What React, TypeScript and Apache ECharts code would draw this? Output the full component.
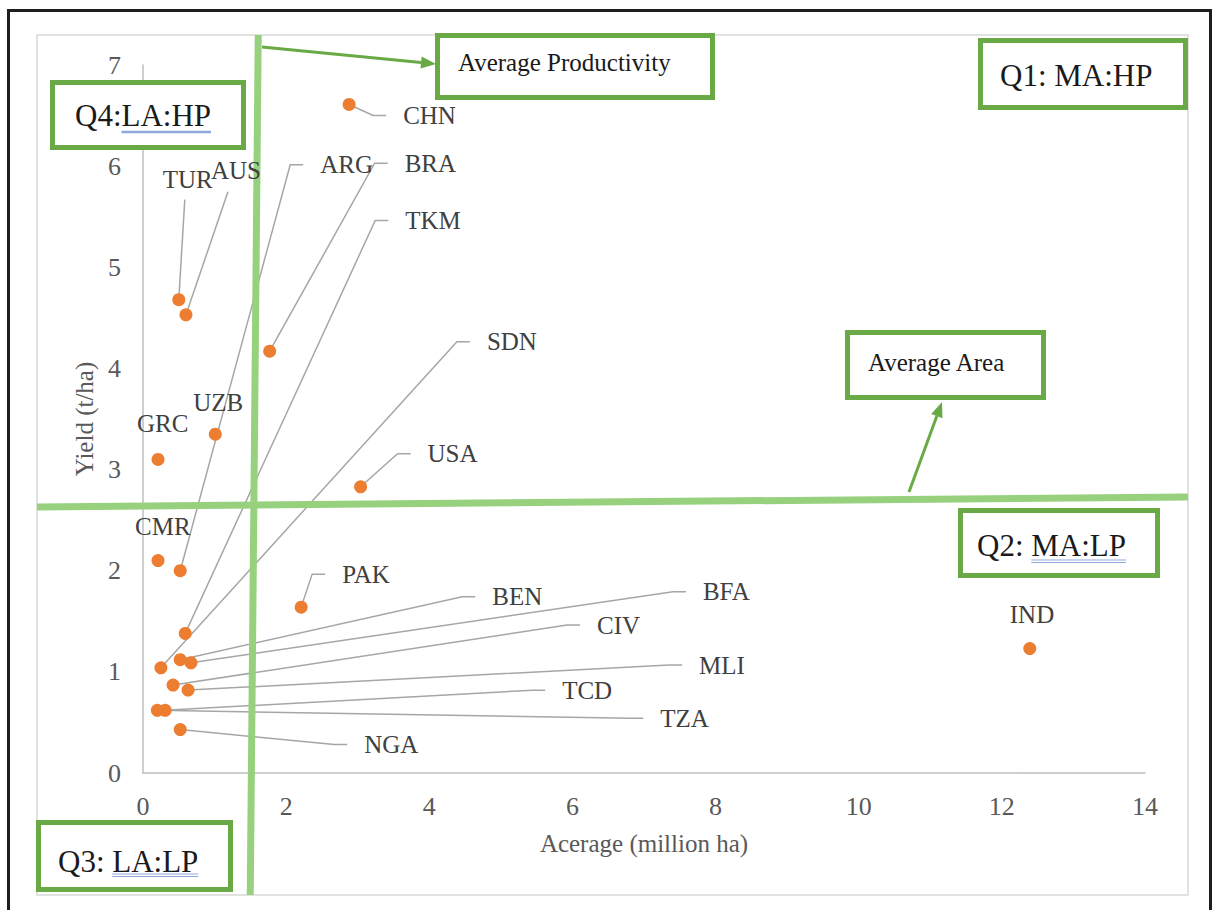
import React, { useEffect, useRef } from 'react';
import * as echarts from 'echarts';

// ---- data ----
const countries = ['CHN', 'TUR', 'AUS', 'ARG', 'BRA', 'TKM', 'SDN', 'USA', 'UZB', 'GRC', 'CMR', 'PAK', 'BEN', 'BFA', 'CIV', 'MLI', 'TCD', 'TZA', 'NGA', 'IND'];
const acreage = [2.88, 0.5, 0.6, 0.52, 1.77, 0.59, 0.25, 3.04, 1.01, 0.21, 0.21, 2.21, 0.52, 0.67, 0.42, 0.63, 0.31, 0.2, 0.52, 12.39];
const yieldTHa = [6.61, 4.68, 4.53, 2.0, 4.17, 1.38, 1.04, 2.83, 3.35, 3.1, 2.1, 1.64, 1.12, 1.09, 0.87, 0.82, 0.62, 0.62, 0.43, 1.23];
const avgArea = 1.55;
const avgYield = 2.68;
const xAxisRange = { min: 0, max: 14, interval: 2 };
const yAxisRange = { min: 0, max: 7, interval: 1 };

// ---- label layout (pixel offsets from each point to its label's left-middle) ----
type Lay = { dx: number; dy: number; leader: 'hook' | 'line' | 'none'; ax?: number; ay?: number };
const labelLayout: Record<string, Lay> = {
  CHN: { dx: 54, dy: 11, leader: 'hook' },
  TUR: { dx: -16, dy: -120, leader: 'line', ax: 6, ay: -100 },
  AUS: { dx: 25, dy: -144, leader: 'line', ax: 42, ay: -123 },
  ARG: { dx: 140, dy: -406, leader: 'hook' },
  BRA: { dx: 135, dy: -188, leader: 'hook' },
  TKM: { dx: 220, dy: -413, leader: 'hook' },
  SDN: { dx: 326, dy: -326, leader: 'hook' },
  USA: { dx: 67, dy: -33, leader: 'hook' },
  UZB: { dx: -22, dy: -32, leader: 'none' },
  GRC: { dx: -21, dy: -36, leader: 'none' },
  CMR: { dx: -23, dy: -34, leader: 'none' },
  PAK: { dx: 41, dy: -33, leader: 'hook' },
  BEN: { dx: 312, dy: -63, leader: 'hook' },
  BFA: { dx: 512, dy: -71, leader: 'hook' },
  CIV: { dx: 424, dy: -60, leader: 'hook' },
  MLI: { dx: 511, dy: -25, leader: 'hook' },
  TCD: { dx: 397, dy: -20, leader: 'hook' },
  TZA: { dx: 503, dy: 8, leader: 'hook' },
  NGA: { dx: 184, dy: 15, leader: 'hook' },
  IND: { dx: -20, dy: -34, leader: 'none' },
};

const FONT = '"Liberation Serif", "Times New Roman", serif';
const GREEN_LINE = '#97d17e';
const GREEN_BOX = '#6aaa46';
const UL_BLUE = '#8ea9db';

type Box = { x: number; y: number; w: number; h: number; left: number; cy: number; size: number; prefix: string; ul: string; ulType: 'none' | 'single' | 'double'; ulDy: number };
const boxes: Box[] = [
  { x: 435, y: 33, w: 280, h: 67, left: 458, cy: 62, size: 25, prefix: 'Average Productivity', ul: '', ulType: 'none', ulDy: 0 },
  { x: 978, y: 38, w: 210, h: 72, left: 1000, cy: 75, size: 31, prefix: 'Q1: MA:HP', ul: '', ulType: 'none', ulDy: 0 },
  { x: 50, y: 80, w: 196, h: 70, left: 75, cy: 115, size: 31, prefix: 'Q4:', ul: 'LA:HP', ulType: 'single', ulDy: 17 },
  { x: 958, y: 508, w: 202, h: 70, left: 977, cy: 545, size: 31, prefix: 'Q2: ', ul: 'MA:LP', ulType: 'double', ulDy: 15 },
  { x: 36, y: 820, w: 197, h: 72, left: 58, cy: 861, size: 31, prefix: 'Q3: ', ul: 'LA:LP', ulType: 'double', ulDy: 13 },
  { x: 845, y: 330, w: 201, h: 70, left: 868, cy: 362, size: 25, prefix: 'Average Area', ul: '', ulType: 'none', ulDy: 0 },
];

function arrow(x1: number, y1: number, x2: number, y2: number, z: number) {
  const dx = x2 - x1, dy = y2 - y1, L = Math.hypot(dx, dy);
  const ux = dx / L, uy = dy / L;
  const hl = 15, hw = 6;
  const bx = x2 - ux * hl, by = y2 - uy * hl;
  const nx = -uy, ny = ux;
  return [
    { type: 'line', z, shape: { x1, y1, x2: bx, y2: by }, style: { stroke: GREEN_BOX, lineWidth: 3 } },
    { type: 'polygon', z, shape: { points: [[x2, y2], [bx + nx * hw, by + ny * hw], [bx - nx * hw, by - ny * hw]] }, style: { fill: GREEN_BOX } },
  ];
}

export default function App() {
  const ref = useRef<HTMLDivElement>(null);
  useEffect(() => {
    const chart = echarts.init(ref.current!, null, { renderer: 'svg' });
    const axisLabel = { color: '#595959', fontSize: 26, fontFamily: FONT };
    chart.setOption({
      animation: false,
      backgroundColor: '#ffffff',
      grid: { left: 143, right: 68, top: 65, bottom: 137 },
      xAxis: {
        type: 'value', ...xAxisRange,
        name: 'Acerage (million ha)', nameLocation: 'middle', nameGap: 58,
        nameTextStyle: { color: '#595959', fontSize: 25, fontFamily: FONT },
        axisLine: { lineStyle: { color: '#bfbfbf', width: 1.5 } },
        axisTick: { show: false }, splitLine: { show: false },
        axisLabel: { ...axisLabel, margin: 20 },
      },
      yAxis: {
        type: 'value', ...yAxisRange,
        name: 'Yield (t/ha)', nameLocation: 'middle', nameGap: 46,
        nameTextStyle: { color: '#595959', fontSize: 25, fontFamily: FONT },
        axisLine: { show: true, lineStyle: { color: '#bfbfbf', width: 1.5 } },
        axisTick: { show: false }, splitLine: { show: false },
        axisLabel: { ...axisLabel, margin: 22 },
      },
      series: [{
        type: 'scatter',
        data: countries.map((c, i) => ({ name: c, value: [acreage[i], yieldTHa[i]] })),
        symbolSize: 13,
        itemStyle: { color: '#ed7d31', opacity: 1 },
        z: 5,
      }],
    });

    const ctx = document.createElement('canvas').getContext('2d')!;
    const measure = (t: string, size: number) => { ctx.font = `${size}px "Liberation Serif"`; return ctx.measureText(t).width; };

    const els: any[] = [];
    // outer frame and chart area border
    els.push({ type: 'rect', z: 0, shape: { x: 37, y: 35, width: 1151, height: 860 }, style: { fill: 'none', stroke: '#d9d9d9', lineWidth: 1.5 } });
    els.push({ type: 'rect', z: 0, shape: { x: 8.5, y: 10.5, width: 1202, height: 1000 }, style: { fill: 'none', stroke: '#1e1e1e', lineWidth: 3 } });

    // leader lines and country labels
    countries.forEach((c, i) => {
      const p = chart.convertToPixel({ gridIndex: 0 }, [acreage[i], yieldTHa[i]]) as number[];
      const lay = labelLayout[c];
      const lx = p[0] + lay.dx, ly = p[1] + lay.dy;
      if (lay.leader === 'hook') {
        els.push({ type: 'polyline', z: 1, shape: { points: [[p[0], p[1]], [lx - 30, ly], [lx - 17, ly]] }, style: { stroke: '#a6a6a6', lineWidth: 1.5, fill: 'none' } });
      } else if (lay.leader === 'line') {
        els.push({ type: 'line', z: 1, shape: { x1: p[0], y1: p[1], x2: p[0] + (lay.ax || 0), y2: p[1] + (lay.ay || 0) }, style: { stroke: '#a6a6a6', lineWidth: 1.5 } });
      }
      els.push({ type: 'text', z: 6, style: { text: c, x: lx, y: ly, fill: '#404040', fontSize: 25, fontFamily: FONT, align: 'left', verticalAlign: 'middle' } });
    });

    // average lines
    const vx = (chart.convertToPixel({ gridIndex: 0 }, [avgArea, 0]) as number[])[0];
    const hy = (chart.convertToPixel({ gridIndex: 0 }, [0, avgYield]) as number[])[1];
    els.push({ type: 'line', z: 3, shape: { x1: vx + 4.3, y1: 35, x2: vx - 3.7, y2: 895 }, style: { stroke: GREEN_LINE, lineWidth: 7 } });
    els.push({ type: 'line', z: 3, shape: { x1: 37, y1: hy + 5, x2: 1188, y2: hy - 5 }, style: { stroke: GREEN_LINE, lineWidth: 7 } });

    // arrows
    els.push(...arrow(262, 47, 436, 64, 4));
    els.push(...arrow(909, 492, 942, 402, 4));

    // boxes
    boxes.forEach((b) => {
      els.push({ type: 'rect', z: 10, shape: { x: b.x + 2.5, y: b.y + 2.5, width: b.w - 5, height: b.h - 5 }, style: { fill: '#ffffff', stroke: GREEN_BOX, lineWidth: 5 } });
      const full = b.prefix + b.ul;
      els.push({ type: 'text', z: 11, style: { text: full, x: b.left, y: b.cy, fill: '#1a1a1a', fontSize: b.size, fontFamily: FONT, align: 'left', verticalAlign: 'middle' } });
      if (b.ulType !== 'none') {
        const x0 = b.left + measure(b.prefix, b.size);
        const x1 = b.left + measure(full, b.size);
        if (b.ulType === 'single') {
          els.push({ type: 'line', z: 11, shape: { x1: x0, y1: b.cy + b.ulDy, x2: x1, y2: b.cy + b.ulDy }, style: { stroke: UL_BLUE, lineWidth: 2.5 } });
        } else {
          els.push({ type: 'line', z: 11, shape: { x1: x0, y1: b.cy + b.ulDy, x2: x1, y2: b.cy + b.ulDy }, style: { stroke: UL_BLUE, lineWidth: 1.2 } });
          els.push({ type: 'line', z: 11, shape: { x1: x0, y1: b.cy + b.ulDy + 2.5, x2: x1, y2: b.cy + b.ulDy + 2.5 }, style: { stroke: UL_BLUE, lineWidth: 1.2 } });
        }
      }
    });

    chart.setOption({ graphic: { elements: els } });
    return () => chart.dispose();
  }, []);
  return <div ref={ref} style={{ position: 'absolute', left: 0, top: 0, width: 1213, height: 910 }} />;
}
